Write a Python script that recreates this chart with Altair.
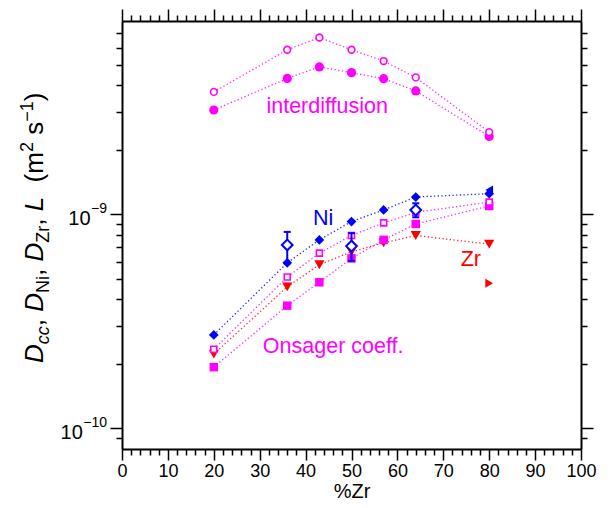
import altair as alt
import pandas as pd

# ---------------- data ----------------
zr = [20, 36, 43, 50, 57, 64, 80]
interdiff_open = [3.73e-9, 5.87e-9, 6.70e-9, 5.87e-9, 5.20e-9, 4.36e-9, 2.42e-9]
interdiff_filled = [3.07e-9, 4.31e-9, 4.88e-9, 4.59e-9, 4.30e-9, 3.77e-9, 2.31e-9]
ni_filled = [2.73e-10, 5.93e-10, 7.59e-10, 9.25e-10, 1.047e-9, 1.204e-9, 1.248e-9]
onsager_open = [2.34e-10, 5.09e-10, 6.58e-10, 7.96e-10, 9.11e-10, 1.02e-9, 1.14e-9]
onsager_filled = [1.93e-10, 3.74e-10, 4.81e-10, 6.22e-10, 7.59e-10, 9.01e-10, 1.093e-9]
zr_tri = [2.22e-10, 4.58e-10, 5.81e-10, 6.68e-10, 7.35e-10, 7.96e-10, 7.25e-10]

ni_open_x = [36, 50, 64]
ni_open = [7.19e-10, 7.10e-10, 1.047e-9]
ni_err_lo = [5.89e-10, 6.06e-10, 0.968e-9]
ni_err_hi = [8.27e-10, 8.16e-10, 1.125e-9]

ni_left_x, ni_left_y = [80], [1.30e-9]
zr_right_x, zr_right_y = [80], [4.76e-10]

labels_text = ["interdiffusion", "Ni", "Zr", "Onsager coeff."]
labels_x = [44.7, 43.8, 76.0, 46.0]
labels_y = [2.96e-9, 8.89e-10, 5.72e-10, 2.24e-10]
labels_color = ["#ff00ff", "#0000ff", "#ff0000", "#ff00ff"]

x_tick_values = list(range(0, 101, 2))
y_tick_values = [m * 10.0 ** e for e in (-11, -10, -9) for m in range(1, 10)]
y_tick_values = [v for v in y_tick_values if 8.5e-11 < v < 7.5e-9]
y_label_values = [1e-9, 1e-10]
y_label_sups = ["\u22129", "\u221210"]

title_pieces = ["D", "cc", ",", "D", "Ni", ",", "D", "Zr", ",", "L", "(m", "2", "s", "\u22121", ")"]
title_kinds = ["main", "sub", "main", "main", "sub", "main", "main", "sub", "main", "main", "main", "sup", "main", "sup", "main"]
title_italic = [True, True, False, True, False, False, True, False, False, True, False, False, False, False, False]
title_gap_after = [0, 0, 0.278, 0, 0, 0.278, 0, 0, 0.278, 0, 0, 0.278, 0, 0, 0]  # em of space
title_gap_before = [0, 0, 0, 0, 0, 0, 0, 0, 0, 0, 0.556, 0, 0, 0, 0]

# ---------------- style ----------------
MAG, BLUE, RED = "#ff00ff", "#0000ff", "#ff0000"
FONT = "Liberation Sans"
W, H = 459, 428

xs = alt.Scale(domain=[0, 100], nice=False, zero=False)
ys = alt.Scale(type="log", domain=[8e-11, 8e-9], nice=False)


def X():
    return alt.X("x:Q", scale=xs, axis=None)


def Y():
    return alt.Y("y:Q", scale=ys, axis=None)


def df(xv, yv):
    return pd.DataFrame({"x": xv, "y": yv})


major_x = "datum.value % 10 == 0"
major_y = "abs(log(datum.value)/LN10 - round(log(datum.value)/LN10)) < 0.001"

common_axis = dict(tickWidth=1.5, tickColor="black", domainColor="black", domainWidth=2,
                   grid=False, labelFont=FONT, labelColor="black")

ax_bottom = alt.Axis(orient="bottom", values=x_tick_values,
                     tickSize={"condition": {"test": major_x, "value": 11}, "value": 6},
                     labelExpr=f"{major_x} ? datum.label : ''", labelFontSize=18,
                     labelPadding=2, labelOverlap=False, labelFlush=False,
                     title="%Zr", titleFont=FONT, titleFontSize=20, titleFontWeight="normal",
                     titleColor="black", titlePadding=1, **common_axis)
ax_top = alt.Axis(orient="top", values=x_tick_values, labels=False, title=None,
                  tickSize={"condition": {"test": major_x, "value": 12}, "value": 6}, **common_axis)
ax_left = alt.Axis(orient="left", values=y_tick_values, labels=False, title=None,
                   tickSize={"condition": {"test": major_y, "value": 12}, "value": 6}, **common_axis)
ax_right = alt.Axis(orient="right", values=y_tick_values, labels=False, title=None,
                    tickSize={"condition": {"test": major_y, "value": 12}, "value": 6}, **common_axis)

all_df = df(zr * 2, interdiff_open + onsager_filled)
axes_a = alt.Chart(all_df).mark_point(opacity=0).encode(
    x=alt.X("x:Q", scale=xs, axis=ax_bottom), y=alt.Y("y:Q", scale=ys, axis=ax_left))
axes_b = alt.Chart(all_df).mark_point(opacity=0).encode(
    x=alt.X("x:Q", scale=xs, axis=ax_top), y=alt.Y("y:Q", scale=ys, axis=ax_right))

layers = [axes_a, axes_b]

dash = [1.3, 2.4]
for ys_, col in [(interdiff_open, MAG), (interdiff_filled, MAG), (ni_filled, BLUE),
                 (onsager_open, MAG), (onsager_filled, MAG), (zr_tri, RED)]:
    layers.append(alt.Chart(df(zr, ys_)).mark_line(color=col, strokeDash=dash, strokeWidth=1.3,
                                                   opacity=0.85).encode(x=X(), y=Y()))

layers.append(alt.Chart(df(zr, zr_tri)).mark_point(shape="triangle-down", filled=True, color=RED,
                                                   size=105, opacity=1).encode(x=X(), y=Y()))
layers.append(alt.Chart(df(zr_right_x, zr_right_y)).mark_point(shape="triangle-right", filled=True,
                                                              color=RED, size=80, opacity=1).encode(x=X(), y=Y()))
layers.append(alt.Chart(df(zr, onsager_filled)).mark_point(shape="square", filled=True, color=MAG,
                                                           size=72, opacity=1).encode(x=X(), y=Y()))
layers.append(alt.Chart(df(zr, onsager_open)).mark_point(shape="square", filled=True, fill="white",
                                                         stroke=MAG, strokeWidth=1.6, size=36,
                                                         opacity=1).encode(x=X(), y=Y()))
layers.append(alt.Chart(df(ni_left_x, ni_left_y)).mark_point(shape="triangle-left", filled=True,
                                                             color=BLUE, size=80, opacity=1).encode(x=X(), y=Y()))
layers.append(alt.Chart(df(zr, ni_filled)).mark_point(shape="diamond", filled=True, color=BLUE,
                                                      size=95, opacity=1).encode(x=X(), y=Y()))
layers.append(alt.Chart(df(zr, interdiff_filled)).mark_point(shape="circle", filled=True, color=MAG,
                                                             size=85, opacity=1).encode(x=X(), y=Y()))
layers.append(alt.Chart(df(zr, interdiff_open)).mark_point(shape="circle", filled=True, fill="white",
                                                           stroke=MAG, strokeWidth=1.6, size=45,
                                                           opacity=1).encode(x=X(), y=Y()))

err_df = pd.DataFrame({"x": ni_open_x, "y": ni_open, "lo": ni_err_lo, "hi": ni_err_hi})
layers.append(alt.Chart(err_df).mark_rule(color=BLUE, strokeWidth=2).encode(
    x=X(), y=alt.Y("lo:Q", scale=ys, axis=None), y2="hi:Q"))
layers.append(alt.Chart(err_df).mark_tick(orient="horizontal", color=BLUE, size=7, thickness=2,
                                          opacity=1).encode(x=X(), y=alt.Y("hi:Q", scale=ys, axis=None)))
layers.append(alt.Chart(err_df).mark_tick(orient="horizontal", color=BLUE, size=7, thickness=2,
                                          opacity=1).encode(x=X(), y=alt.Y("lo:Q", scale=ys, axis=None)))
layers.append(alt.Chart(err_df).mark_point(shape="diamond", filled=True, fill="white", stroke=BLUE,
                                           strokeWidth=2, size=115, opacity=1).encode(x=X(), y=Y()))

# in-plot labels
for t, lx, ly, c in zip(labels_text, labels_x, labels_y, labels_color):
    layers.append(alt.Chart(pd.DataFrame({"x": [lx], "y": [ly], "t": [t]})).mark_text(
        font=FONT, fontSize=21.5, color=c, align="center", baseline="alphabetic").encode(
        x=X(), y=Y(), text="t:N"))

# y tick labels 10^-9, 10^-10
CW = {" ": 278, ",": 278, "(": 333, ")": 333, "-": 333, "\u2212": 584, "0": 556, "1": 556, "2": 556,
      "9": 556, "D": 722, "L": 556, "N": 722, "Z": 611, "c": 500, "i": 222, "m": 833, "r": 333, "s": 500}


def tw(s, size):
    return sum(CW.get(ch, 556) for ch in s) * size / 1000.0


SUP_SIZE = 14
for val, sup in zip(y_label_values, y_label_sups):
    sdf = pd.DataFrame({"y": [val], "t": [sup]})
    layers.append(alt.Chart(sdf).mark_text(font=FONT, fontSize=SUP_SIZE, color="black", align="right",
                                           baseline="middle", dy=-5).encode(
        x=alt.value(-15), y=Y(), text="t:N"))
    bdf = pd.DataFrame({"y": [val], "t": ["10"]})
    layers.append(alt.Chart(bdf).mark_text(font=FONT, fontSize=20, color="black", align="right",
                                           baseline="middle", dy=5).encode(
        x=alt.value(-15 - tw(sup, SUP_SIZE) - 0.5), y=Y(), text="t:N"))

# rotated y-axis title built from pieces
MAIN, SUB = 26, 18
base_x, start_y = -79, 342
cur = start_y
for p, k, it, ga, gb in zip(title_pieces, title_kinds, title_italic, title_gap_after, title_gap_before):
    cur -= gb * MAIN
    size = MAIN if k == "main" else SUB
    px = base_x + (6 if k == "sub" else (-10 if k == "sup" else 0))
    layers.append(alt.Chart(pd.DataFrame({"t": [p]})).mark_text(
        font=FONT, fontSize=size, fontStyle="italic" if it else "normal", color="black",
        angle=270, align="left", baseline="alphabetic").encode(
        x=alt.value(px), y=alt.value(cur), text="t:N"))
    cur -= tw(p, size) + ga * MAIN

chart = alt.layer(*layers).resolve_axis(x="independent", y="independent").properties(
    width=W, height=H,
    autosize=alt.AutoSizeParams(type="none"),
    padding={"left": 114, "top": 13, "right": 22, "bottom": 51},
).configure_view(stroke=None).configure(background="white")

chart.save("out.html", embed_options={"renderer": "svg", "actions": False})
